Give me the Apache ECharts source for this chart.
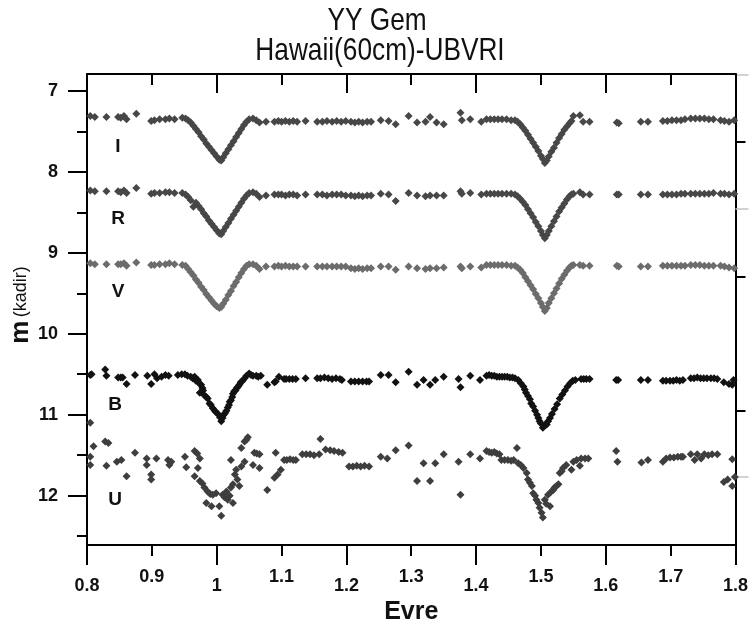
<!DOCTYPE html>
<html>
<head>
<meta charset="utf-8">
<script src="https://cdn.jsdelivr.net/npm/echarts@6/dist/echarts.min.js"></script>
<style>
html,body{margin:0;padding:0;background:#fff;}
#chart{width:751px;height:633px;}
</style>
</head>
<body>
<div id="chart"></div>
<script>
// ---- data ----
const titleLines = ['YY Gem', 'Hawaii(60cm)-UBVRI'];
const xLabelsEven = [0.8, 1.0, 1.2, 1.4, 1.6, 1.8];
const xLabelsOdd = [0.9, 1.1, 1.3, 1.5, 1.7];
const yLabels = [7, 8, 9, 10, 11, 12];
const yMinor = [7.5, 8.5, 9.5, 10.5, 11.5, 12.5];
const bandNames = ['I', 'R', 'V', 'B', 'U'];

// shared phases for I, R, V observations
const phaseIRV = [
  0.805,0.812,0.830,0.848,0.852,0.857,0.861,0.876,0.899,0.904,0.912,0.921,0.927,0.935,
  0.947,0.952,0.956,0.960,0.964,0.968,0.972,0.976,0.980,0.984,0.988,0.992,0.996,1.000,1.004,1.007,1.010,1.014,1.018,1.022,1.026,1.030,1.034,1.038,1.042,1.046,1.050,
  1.056,1.061,1.066,1.076,1.089,1.095,1.100,1.106,1.112,1.118,1.124,1.137,1.155,1.163,1.170,1.178,1.185,1.192,1.199,1.207,1.213,1.219,1.225,1.232,1.238,1.253,1.265,1.276,1.296,1.309,
  1.322,1.329,1.339,1.350,1.376,1.378,1.391,1.408,1.416,1.422,1.428,1.434,1.440,1.447,1.454,
  1.460,1.464,1.468,1.472,1.476,1.480,1.484,1.488,1.492,1.496,1.500,1.503,1.506,1.509,1.512,1.516,1.520,1.524,1.528,1.532,1.536,1.540,1.544,1.547,
  1.550,1.560,1.565,1.575,1.617,1.620,1.654,1.665,1.688,1.695,1.702,1.709,1.716,1.722,1.731,1.738,1.745,1.752,1.759,1.766,1.777,1.783,1.790,1.798
];
const magI = [
  7.31,7.32,7.32,7.32,7.33,7.31,7.35,7.28,7.37,7.36,7.35,7.35,7.34,7.35,
  7.33,7.34,7.36,7.39,7.43,7.47,7.51,7.56,7.60,7.65,7.69,7.73,7.77,7.81,7.85,7.86,7.82,7.77,7.72,7.67,7.62,7.57,7.52,7.47,7.42,7.38,7.35,
  7.34,7.36,7.39,7.38,7.38,7.37,7.38,7.37,7.38,7.37,7.38,7.37,7.38,7.38,7.37,7.38,7.37,7.38,7.37,7.38,7.39,7.38,7.39,7.38,7.38,7.36,7.37,7.41,7.31,7.39,
  7.38,7.32,7.39,7.41,7.27,7.36,7.35,7.38,7.35,7.35,7.35,7.35,7.35,7.35,7.36,
  7.36,7.38,7.41,7.45,7.49,7.54,7.59,7.64,7.69,7.74,7.80,7.84,7.89,7.86,7.81,7.75,7.70,7.64,7.58,7.53,7.48,7.44,7.40,7.37,
  7.31,7.30,7.38,7.38,7.39,7.40,7.38,7.38,7.37,7.37,7.36,7.36,7.36,7.35,7.34,7.34,7.34,7.34,7.35,7.35,7.36,7.37,7.38,7.36
];
const magR = [
  8.23,8.24,8.24,8.24,8.25,8.23,8.26,8.20,8.27,8.26,8.26,8.25,8.25,8.26,
  8.26,8.28,8.31,8.35,8.43,8.38,8.42,8.46,8.51,8.55,8.60,8.64,8.68,8.72,8.76,8.77,8.73,8.68,8.63,8.58,8.53,8.48,8.43,8.38,8.33,8.29,8.26,
  8.25,8.27,8.31,8.29,8.28,8.28,8.28,8.29,8.28,8.28,8.29,8.28,8.28,8.28,8.29,8.28,8.28,8.28,8.29,8.29,8.30,8.29,8.30,8.29,8.29,8.27,8.28,8.36,8.26,8.29,
  8.30,8.29,8.29,8.29,8.24,8.27,8.26,8.28,8.27,8.27,8.27,8.27,8.27,8.27,8.27,
  8.28,8.30,8.33,8.37,8.41,8.46,8.51,8.56,8.62,8.67,8.73,8.78,8.82,8.78,8.73,8.67,8.61,8.55,8.49,8.44,8.39,8.34,8.30,8.28,
  8.27,8.25,8.28,8.28,8.28,8.28,8.28,8.28,8.28,8.28,8.28,8.28,8.27,8.27,8.27,8.27,8.27,8.27,8.27,8.26,8.27,8.27,8.28,8.27
];
const magV = [
  9.13,9.14,9.14,9.14,9.14,9.13,9.16,9.12,9.15,9.15,9.14,9.14,9.13,9.14,
  9.15,9.16,9.20,9.24,9.28,9.33,9.37,9.42,9.46,9.51,9.55,9.59,9.63,9.66,9.68,9.67,9.63,9.58,9.52,9.47,9.41,9.36,9.30,9.25,9.20,9.16,9.14,
  9.14,9.16,9.20,9.17,9.17,9.16,9.17,9.16,9.17,9.17,9.17,9.17,9.17,9.17,9.17,9.17,9.17,9.17,9.17,9.19,9.20,9.19,9.20,9.19,9.19,9.17,9.17,9.21,9.17,9.19,
  9.20,9.19,9.19,9.18,9.17,9.19,9.17,9.18,9.15,9.15,9.15,9.15,9.15,9.15,9.16,
  9.16,9.18,9.21,9.25,9.30,9.35,9.40,9.45,9.51,9.56,9.62,9.67,9.72,9.68,9.62,9.56,9.50,9.44,9.38,9.32,9.27,9.22,9.18,9.16,
  9.15,9.15,9.16,9.16,9.16,9.17,9.17,9.17,9.16,9.16,9.16,9.16,9.16,9.16,9.15,9.15,9.15,9.16,9.16,9.16,9.16,9.17,9.18,9.19
];
const bandB = [
  [0.805,10.51],[0.807,10.50],[0.828,10.44],[0.830,10.52],[0.848,10.54],[0.852,10.54],[0.855,10.54],[0.861,10.62],[0.874,10.51],[0.893,10.52],[0.899,10.62],[0.904,10.50],[0.908,10.55],[0.915,10.53],[0.921,10.51],[0.926,10.52],[0.940,10.51],[0.946,10.50],
  [0.951,10.50],[0.955,10.52],[0.960,10.53],[0.963,10.55],[0.966,10.53],[0.968,10.58],[0.971,10.57],[0.974,10.62],[0.976,10.63],[0.978,10.67],[0.974,10.73],[0.979,10.70],[0.981,10.76],[0.984,10.78],[0.986,10.80],[0.989,10.86],[0.991,10.88],[0.994,10.92],[0.997,10.95],[0.999,10.97],[1.002,10.99],[1.005,11.03],[1.007,11.08],[1.009,11.04],[1.011,11.00],[1.013,10.98],[1.015,10.95],[1.017,10.91],[1.019,10.88],[1.020,10.84],[1.022,10.82],[1.024,10.78],[1.025,10.74],[1.027,10.71],[1.029,10.70],[1.031,10.67],[1.033,10.65],[1.035,10.63],[1.037,10.60],[1.040,10.58],[1.043,10.55],[1.046,10.52],[1.050,10.49],[1.053,10.51],[1.056,10.52],[1.061,10.52],[1.064,10.53],[1.068,10.52],
  [1.078,10.63],[1.089,10.60],[1.091,10.59],[1.096,10.53],[1.104,10.56],[1.107,10.56],[1.112,10.56],[1.117,10.56],[1.122,10.56],[1.137,10.55],[1.155,10.55],[1.160,10.55],[1.166,10.54],[1.172,10.55],[1.178,10.56],[1.184,10.55],[1.190,10.56],[1.193,10.57],[1.207,10.59],[1.213,10.59],[1.219,10.59],[1.225,10.59],[1.231,10.59],[1.235,10.59],[1.253,10.51],[1.265,10.51],[1.276,10.60],[1.296,10.47],[1.309,10.63],[1.319,10.57],[1.329,10.63],[1.337,10.57],[1.350,10.53],[1.373,10.56],[1.376,10.66],[1.391,10.52],[1.406,10.57],[1.416,10.52],[1.420,10.51],[1.424,10.52],[1.428,10.52],[1.432,10.53],[1.436,10.53],[1.440,10.53],[1.444,10.53],[1.448,10.53],[1.452,10.54],[1.456,10.54],[1.460,10.55],
  [1.465,10.57],[1.469,10.61],[1.473,10.65],[1.475,10.69],[1.477,10.73],[1.480,10.77],[1.483,10.81],[1.485,10.86],[1.488,10.90],[1.491,10.95],[1.494,11.00],[1.496,11.04],[1.498,11.08],[1.500,11.11],[1.503,11.16],[1.505,11.14],[1.507,11.12],[1.509,11.12],[1.511,11.08],[1.514,11.04],[1.517,10.99],[1.521,10.93],[1.525,10.87],[1.529,10.80],[1.533,10.75],[1.537,10.70],[1.541,10.65],[1.545,10.61],[1.549,10.58],[1.553,10.57],
  [1.562,10.56],[1.566,10.56],[1.570,10.56],[1.575,10.56],[1.616,10.57],[1.619,10.57],[1.654,10.57],[1.665,10.57],[1.688,10.58],[1.693,10.58],[1.699,10.58],[1.704,10.58],[1.709,10.57],[1.714,10.58],[1.719,10.57],[1.731,10.55],[1.736,10.55],[1.741,10.54],[1.746,10.55],[1.751,10.55],[1.756,10.55],[1.762,10.55],[1.767,10.55],[1.772,10.56],[1.782,10.60],[1.790,10.62],[1.795,10.63],[1.797,10.57]
];
const bandU = [
  [0.805,11.10],[0.810,11.39],[0.805,11.52],[0.805,11.62],[0.828,11.33],[0.833,11.35],[0.830,11.63],[0.846,11.58],[0.853,11.56],[0.861,11.76],[0.874,11.47],[0.892,11.54],[0.892,11.62],[0.899,11.74],[0.899,11.80],[0.907,11.54],[0.925,11.56],[0.927,11.62],[0.930,11.58],
  [0.951,11.52],[0.953,11.65],[0.966,11.45],[0.970,11.48],[0.974,11.54],[0.971,11.66],[0.966,11.76],[0.974,11.82],[0.978,11.85],[0.981,11.90],[0.986,11.95],[0.984,12.09],[0.990,11.98],[0.994,11.99],[0.999,11.97],[0.992,12.13],[1.004,12.13],[1.007,12.25],[1.009,11.99],[1.012,12.02],[1.015,11.95],[1.017,12.05],[1.020,12.00],[1.025,12.09],[1.022,11.90],[1.025,11.86],[1.028,11.74],[1.030,11.68],[1.022,11.56],[1.032,11.80],[1.035,11.88],[1.038,11.64],[1.043,11.58],[1.038,11.41],[1.043,11.33],[1.048,11.28],[1.046,11.31],
  [1.058,11.47],[1.062,11.48],[1.066,11.49],[1.056,11.62],[1.066,11.66],[1.078,11.93],[1.091,11.47],[1.089,11.78],[1.094,11.74],[1.099,11.68],[1.104,11.56],[1.108,11.56],[1.113,11.55],[1.118,11.56],[1.122,11.56],[1.132,11.49],[1.138,11.49],[1.144,11.49],[1.150,11.50],[1.158,11.49],[1.160,11.30],[1.168,11.43],[1.175,11.44],[1.181,11.45],[1.188,11.46],[1.194,11.47],[1.204,11.64],[1.210,11.64],[1.216,11.63],[1.222,11.64],[1.228,11.63],[1.235,11.64],[1.253,11.52],[1.263,11.54],[1.276,11.44],[1.296,11.38],[1.309,11.82],[1.319,11.60],[1.329,11.82],[1.337,11.60],[1.350,11.49],[1.373,11.58],[1.376,11.99],[1.391,11.49],[1.406,11.54],
  [1.416,11.45],[1.420,11.46],[1.424,11.47],[1.428,11.46],[1.432,11.48],[1.436,11.49],[1.439,11.56],[1.444,11.56],[1.449,11.56],[1.454,11.57],[1.458,11.56],[1.463,11.41],[1.465,11.60],[1.469,11.62],[1.473,11.66],[1.478,11.72],[1.480,11.80],[1.483,11.84],[1.486,11.88],[1.488,11.97],[1.491,12.00],[1.493,12.05],[1.496,12.09],[1.498,12.15],[1.501,12.21],[1.503,12.27],[1.506,12.05],[1.508,12.10],[1.511,11.99],[1.514,12.13],[1.516,11.95],[1.519,11.93],[1.521,11.90],[1.524,11.88],[1.527,11.86],[1.529,11.72],[1.532,11.70],[1.534,11.66],[1.539,11.62],[1.547,11.68],[1.550,11.58],[1.555,11.56],[1.560,11.63],[1.562,11.54],[1.568,11.54],[1.573,11.54],
  [1.616,11.45],[1.618,11.58],[1.655,11.59],[1.665,11.56],[1.688,11.58],[1.693,11.54],[1.699,11.53],[1.705,11.53],[1.711,11.52],[1.716,11.52],[1.719,11.52],[1.731,11.49],[1.737,11.56],[1.741,11.49],[1.747,11.54],[1.752,11.49],[1.758,11.50],[1.764,11.49],[1.772,11.49],[1.782,11.83],[1.788,11.80],[1.795,11.88],[1.795,11.55],[1.799,11.77]
];
// right-hand auxiliary axis tick positions (in magnitude units)
const rightTicks = [7.626, 9.293, 10.947];
const rightGrayTicks = [6.80, 8.46, 11.77];

// ---- chart ----
const FONT = "'Liberation Sans', Arial, sans-serif";
const zip = (xs, ys) => xs.map((x, i) => [x, ys[i]]);
const seriesData = {
  I: zip(phaseIRV, magI),
  R: zip(phaseIRV, magR),
  V: zip(phaseIRV, magV),
  B: bandB,
  U: bandU
};
const colors = { I: '#474747', R: '#474747', V: '#6c6c6c', B: '#121212', U: '#3e3e3e' };

const Y_MIN = 6.79, Y_MAX = 12.61;
const axisLineStyle = { color: '#000', width: 2 };
const tickFont = { color: '#111', fontFamily: FONT, fontWeight: 'bold', fontSize: 18 };

const chart = echarts.init(document.getElementById('chart'), null, { renderer: 'canvas' });
chart.setOption({
  animation: false,
  backgroundColor: '#fff',
  grid: { left: 87, top: 74, width: 651, height: 471, containLabel: false },
  xAxis: [
    { // bottom, short ticks + odd labels
      type: 'value', position: 'bottom', min: 0.8, max: 1.8,
      axisLine: { show: true, lineStyle: axisLineStyle },
      axisTick: { show: true, inside: false, length: 11, lineStyle: { color: '#000', width: 2 }, customValues: xLabelsOdd },
      axisLabel: Object.assign({ show: true, customValues: xLabelsOdd, margin: 23 }, tickFont),
      splitLine: { show: false }
    },
    { // bottom, long ticks + even labels + name
      type: 'value', position: 'bottom', min: 0.8, max: 1.8,
      axisLine: { show: false },
      axisTick: { show: true, inside: false, length: 20, lineStyle: { color: '#000', width: 2 }, customValues: xLabelsEven },
      axisLabel: Object.assign({ show: true, customValues: xLabelsEven, margin: 32 }, tickFont),
      splitLine: { show: false },
      name: 'Evre', nameLocation: 'middle', nameGap: 55,
      nameTextStyle: { fontFamily: FONT, fontWeight: 'bold', fontSize: 25, color: '#111' }
    },
    { // top, short ticks inside
      type: 'value', position: 'top', min: 0.8, max: 1.8,
      axisLine: { show: true, lineStyle: axisLineStyle },
      axisTick: { show: true, inside: true, length: 11, lineStyle: { color: '#000', width: 2 }, customValues: xLabelsOdd },
      axisLabel: { show: false }, splitLine: { show: false }
    },
    { // top, long ticks inside
      type: 'value', position: 'top', min: 0.8, max: 1.8,
      axisLine: { show: false },
      axisTick: { show: true, inside: true, length: 19, lineStyle: { color: '#000', width: 2 }, customValues: xLabelsEven },
      axisLabel: { show: false }, splitLine: { show: false }
    }
  ],
  yAxis: [
    {
      type: 'value', position: 'left', inverse: true, min: Y_MIN, max: Y_MAX,
      axisLine: { show: true, lineStyle: axisLineStyle },
      axisTick: { show: true, inside: false, length: 19, lineStyle: { color: '#000', width: 2 }, customValues: yLabels },
      axisLabel: Object.assign({ show: true, customValues: yLabels, margin: 29 }, tickFont),
      splitLine: { show: false }
    },
    {
      type: 'value', position: 'left', inverse: true, min: Y_MIN, max: Y_MAX,
      axisLine: { show: false },
      axisTick: { show: true, inside: false, length: 10, lineStyle: { color: '#000', width: 2 }, customValues: yMinor },
      axisLabel: { show: false }, splitLine: { show: false }
    },
    {
      type: 'value', position: 'right', inverse: true, min: Y_MIN, max: Y_MAX,
      axisLine: { show: true, lineStyle: axisLineStyle },
      axisTick: { show: true, inside: false, length: 10, lineStyle: { color: '#000', width: 2 }, customValues: rightTicks },
      axisLabel: { show: false }, splitLine: { show: false }
    },
    {
      type: 'value', position: 'right', inverse: true, min: Y_MIN, max: Y_MAX,
      axisLine: { show: false },
      axisTick: { show: true, inside: false, length: 13, lineStyle: { color: '#c4c4c4', width: 1.5 }, customValues: rightGrayTicks },
      axisLabel: { show: false }, splitLine: { show: false }
    }
  ],
  graphic: [
    { type: 'text', x: 377, y: 21, scaleX: 0.82, style: { text: titleLines[0], font: '32px ' + FONT, fill: '#111', textAlign: 'center', textVerticalAlign: 'middle' } },
    { type: 'text', x: 380, y: 51, scaleX: 0.82, style: { text: titleLines[1], font: '32px ' + FONT, fill: '#111', textAlign: 'center', textVerticalAlign: 'middle' } },
    { type: 'text', x: 21, y: 305, rotation: Math.PI / 2,
      style: { text: '{m|m} {k|(kadir)}', textAlign: 'center', textVerticalAlign: 'middle',
        rich: { m: { fontFamily: FONT, fontWeight: 'bold', fontSize: 26, fill: '#111' }, k: { fontFamily: FONT, fontSize: 18, fill: '#111' } } } },
    { type: 'text', x: 118, y: 147, style: { text: bandNames[0], font: 'bold 19px ' + FONT, fill: '#111', textAlign: 'center', textVerticalAlign: 'middle' } },
    { type: 'text', x: 118, y: 219, style: { text: bandNames[1], font: 'bold 19px ' + FONT, fill: '#111', textAlign: 'center', textVerticalAlign: 'middle' } },
    { type: 'text', x: 118, y: 292, style: { text: bandNames[2], font: 'bold 19px ' + FONT, fill: '#111', textAlign: 'center', textVerticalAlign: 'middle' } },
    { type: 'text', x: 115, y: 405, style: { text: bandNames[3], font: 'bold 19px ' + FONT, fill: '#111', textAlign: 'center', textVerticalAlign: 'middle' } },
    { type: 'text', x: 115, y: 500, style: { text: bandNames[4], font: 'bold 19px ' + FONT, fill: '#111', textAlign: 'center', textVerticalAlign: 'middle' } }
  ],
  series: bandNames.map(name => ({
    name: name,
    type: 'scatter',
    xAxisIndex: 0, yAxisIndex: 0,
    symbol: 'diamond',
    symbolSize: 8,
    itemStyle: { color: colors[name], opacity: 1 },
    data: seriesData[name]
  }))
});
</script>
</body>
</html>
